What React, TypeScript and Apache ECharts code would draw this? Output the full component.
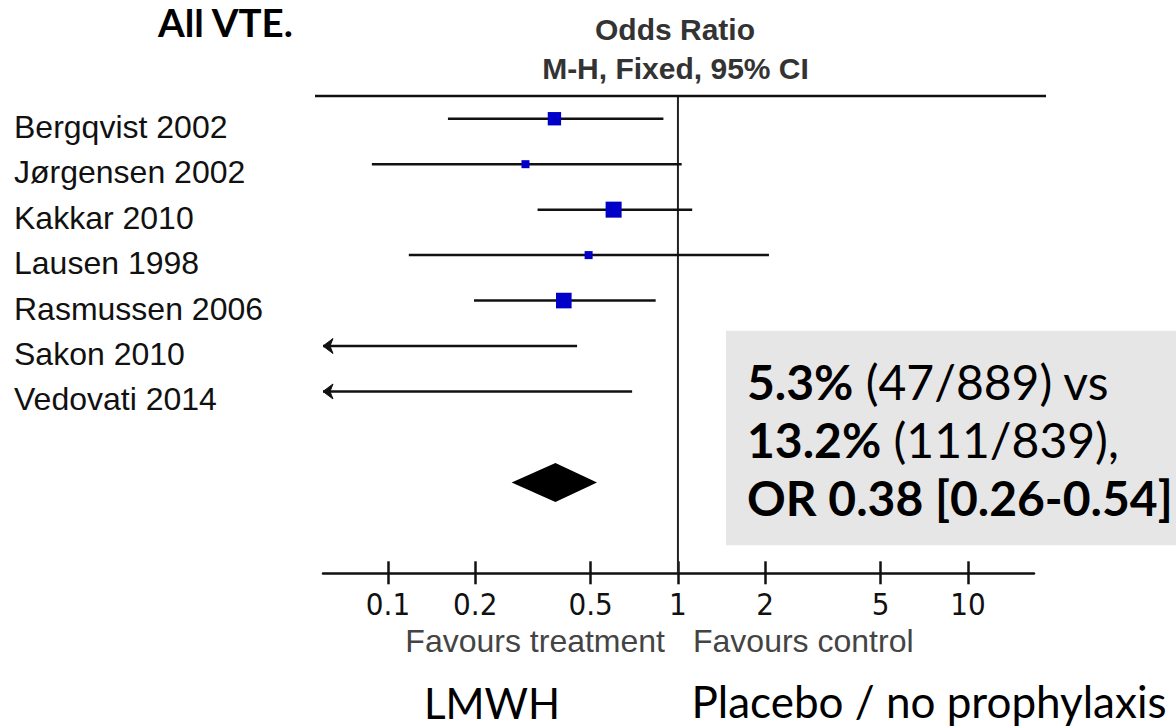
import React, { useEffect, useRef } from 'react';
import * as echarts from 'echarts';

// ---- Data ----
const studies = [
  'Bergqvist 2002',
  'Jørgensen 2002',
  'Kakkar 2010',
  'Lausen 1998',
  'Rasmussen 2006',
  'Sakon 2010',
  'Vedovati 2014',
];
const oddsRatio = [0.375, 0.298, 0.6, 0.492, 0.404, 0.04, 0.05];
const ciLower = [0.161, 0.088, 0.328, 0.118, 0.198, 0.002, 0.003];
const ciUpper = [0.891, 1.03, 1.12, 2.06, 0.838, 0.449, 0.695];
const weights = [22.0, 7.9, 31.6, 7.9, 30.0, 0.3, 0.3];

const pooledOR = [0.378];
const pooledLower = [0.267];
const pooledUpper = [0.526];

const tickValues = [0.1, 0.2, 0.5, 1, 2, 5, 10];
const tickLabels = ['0.1', '0.2', '0.5', '1', '2', '5', '10'];
const axisMinOR = 0.0597;
const axisMaxOR = 16.9;

const POOLED_ROW = 8;
const TOP_ROW = -0.5;
const AXIS_ROW = 10;

const lg = (v: number) => Math.log10(v);

export default function App() {
  const ref = useRef<HTMLDivElement>(null);

  useEffect(() => {
    if (!ref.current) return;
    const chart = echarts.init(ref.current, undefined, { renderer: 'svg' });

    const tickLogs = tickValues.map(lg);
    const labelFor = (v: number) => {
      const i = tickLogs.findIndex((t) => Math.abs(t - v) < 1e-6);
      return i >= 0 ? tickLabels[i] : '';
    };

    const studyData = studies.map((_, i) => [
      lg(ciLower[i]),
      lg(oddsRatio[i]),
      lg(ciUpper[i]),
      i,
      weights[i],
    ]);
    const pooledData = pooledOR.map((_, i) => [
      lg(pooledLower[i]),
      lg(pooledOR[i]),
      lg(pooledUpper[i]),
      POOLED_ROW,
    ]);

    const sansLabel = "'Liberation Sans', Arial, sans-serif";
    const narrowLabel =
      "'Liberation Sans Narrow', 'Arial Narrow', 'DejaVu Sans Condensed', 'Liberation Sans', Arial, sans-serif";
    const calibriLike = "Lato, 'Open Sans', sans-serif";

    const option: any = {
      animation: false,
      backgroundColor: '#ffffff',
      grid: { left: 323, right: 142, top: 96, bottom: 153.7, containLabel: false },
      xAxis: [
        {
          type: 'value',
          min: lg(axisMinOR),
          max: lg(axisMaxOR),
          position: 'bottom',
          splitLine: { show: false },
          axisLine: { show: true, onZero: false, lineStyle: { color: '#111', width: 2.5 } },
          axisTick: {
            show: true,
            inside: true,
            length: 12,
            customValues: tickLogs,
            lineStyle: { color: '#111', width: 2.5 },
          },
          axisLabel: {
            show: true,
            customValues: tickLogs,
            formatter: (v: number) => labelFor(v),
            margin: 15,
            fontFamily: narrowLabel,
            fontSize: 31,
            color: '#111',
          },
        },
        {
          type: 'value',
          min: lg(axisMinOR),
          max: lg(axisMaxOR),
          position: 'bottom',
          splitLine: { show: false },
          axisLine: { show: false, onZero: false },
          axisTick: {
            show: true,
            inside: false,
            length: 11,
            customValues: tickLogs,
            lineStyle: { color: '#111', width: 2.5 },
          },
          axisLabel: { show: false },
        },
      ],
      yAxis: {
        type: 'value',
        inverse: true,
        min: TOP_ROW,
        max: AXIS_ROW,
        splitLine: { show: false },
        axisLine: { show: false, onZero: false },
        axisTick: { show: false },
        axisLabel: {
          show: true,
          customValues: studies.map((_, i) => i),
          formatter: (v: number) => studies[Math.round(v)] ?? '',
          align: 'left',
          verticalAlign: 'top',
          lineHeight: 16,
          margin: 309,
          fontFamily: sansLabel,
          fontSize: 32,
          color: '#111',
        },
      },
      series: [
        {
          name: 'line of no effect',
          type: 'line',
          xAxisIndex: 0,
          data: [
            [0, TOP_ROW],
            [0, AXIS_ROW],
          ],
          symbol: 'none',
          lineStyle: { color: '#222', width: 2 },
          silent: true,
          z: 1,
        },
        {
          name: 'studies',
          type: 'custom',
          xAxisIndex: 0,
          encode: { x: [0, 1, 2], y: 3 },
          data: studyData,
          z: 3,
          renderItem: (params: any, api: any) => {
            const lo = api.value(0);
            const est = api.value(1);
            const hi = api.value(2);
            const row = api.value(3);
            const w = api.value(4);
            const cs = params.coordSys;
            const left = cs.x;
            const right = cs.x + cs.width;
            const pLo = api.coord([lo, row]);
            const pHi = api.coord([hi, row]);
            const pEst = api.coord([est, row]);
            const y = pEst[1];
            const x1 = Math.max(left, pLo[0]);
            const x2 = Math.min(right, pHi[0]);
            const children: any[] = [
              {
                type: 'line',
                shape: { x1, y1: y, x2, y2: y },
                style: { stroke: '#111', lineWidth: 2.5 },
              },
            ];
            if (pLo[0] < left) {
              children.push({
                type: 'polygon',
                shape: {
                  points: [
                    [left, y],
                    [left + 10, y - 7.5],
                    [left + 7, y],
                    [left + 10, y + 7.5],
                  ],
                },
                style: { fill: '#111', stroke: '#111', lineWidth: 1 },
              });
            }
            if (pHi[0] > right) {
              children.push({
                type: 'polygon',
                shape: {
                  points: [
                    [right, y],
                    [right - 10, y - 7.5],
                    [right - 7, y],
                    [right - 10, y + 7.5],
                  ],
                },
                style: { fill: '#111', stroke: '#111', lineWidth: 1 },
              });
            }
            if (pEst[0] >= left && pEst[0] <= right) {
              const s = 2.85 * Math.sqrt(w);
              children.push({
                type: 'rect',
                shape: { x: pEst[0] - s / 2, y: y - s / 2, width: s, height: s },
                style: { fill: '#0000c8' },
              });
            }
            return { type: 'group', children };
          },
        },
        {
          name: 'pooled',
          type: 'custom',
          xAxisIndex: 0,
          encode: { x: [0, 1, 2], y: 3 },
          data: pooledData,
          z: 3,
          renderItem: (params: any, api: any) => {
            const row = api.value(3);
            const pLo = api.coord([api.value(0), row]);
            const pEst = api.coord([api.value(1), row]);
            const pHi = api.coord([api.value(2), row]);
            const y = pEst[1];
            const h = 19.5;
            return {
              type: 'polygon',
              shape: {
                points: [
                  [pLo[0], y],
                  [pEst[0], y - h],
                  [pHi[0], y],
                  [pEst[0], y + h],
                ],
              },
              style: { fill: '#000' },
            };
          },
        },
      ],
      graphic: [
        {
          type: 'line',
          shape: { x1: 315, y1: 96, x2: 1046, y2: 96 },
          style: { stroke: '#111', lineWidth: 2.5 },
          z: 5,
        },
        {
          type: 'text',
          x: 158,
          y: 22,
          style: {
            text: 'All VTE.',
            fontFamily: calibriLike,
            fontWeight: 'bold',
            fontSize: 38.5,
            fill: '#000',
            textAlign: 'left',
            textVerticalAlign: 'middle',
          },
        },
        {
          type: 'text',
          x: 675,
          y: 29,
          style: {
            text: 'Odds Ratio',
            fontFamily: sansLabel,
            fontWeight: 'bold',
            fontSize: 30,
            fill: '#333',
            textAlign: 'center',
            textVerticalAlign: 'middle',
          },
        },
        {
          type: 'text',
          x: 675.5,
          y: 68,
          style: {
            text: 'M-H, Fixed, 95% CI',
            fontFamily: sansLabel,
            fontWeight: 'bold',
            fontSize: 30,
            fill: '#333',
            textAlign: 'center',
            textVerticalAlign: 'middle',
          },
        },
        {
          type: 'text',
          x: 665,
          y: 641,
          style: {
            text: 'Favours treatment',
            fontFamily: sansLabel,
            fontSize: 32,
            fill: '#444',
            textAlign: 'right',
            textVerticalAlign: 'middle',
          },
        },
        {
          type: 'text',
          x: 693,
          y: 641,
          style: {
            text: 'Favours control',
            fontFamily: sansLabel,
            fontSize: 32,
            fill: '#444',
            textAlign: 'left',
            textVerticalAlign: 'middle',
          },
        },
        {
          type: 'rect',
          shape: { x: 726, y: 330.7, width: 450, height: 214.5 },
          style: { fill: '#e6e6e6' },
          z: 10,
        },
        {
          type: 'text',
          x: 747,
          y: 381,
          z: 11,
          style: {
            text: '{b|5.3%} (47/889) vs',
            fontFamily: calibriLike,
            fontSize: 48,
            fill: '#000',
            textAlign: 'left',
            textVerticalAlign: 'middle',
            rich: { b: { fontWeight: 'bold', fontFamily: calibriLike, fontSize: 48, fill: '#000' } },
          },
        },
        {
          type: 'text',
          x: 747,
          y: 439,
          z: 11,
          style: {
            text: '{b|13.2%} (111/839),',
            fontFamily: calibriLike,
            fontSize: 48,
            fill: '#000',
            textAlign: 'left',
            textVerticalAlign: 'middle',
            rich: { b: { fontWeight: 'bold', fontFamily: calibriLike, fontSize: 48, fill: '#000' } },
          },
        },
        {
          type: 'text',
          x: 747,
          y: 497,
          z: 11,
          style: {
            text: 'OR 0.38 [0.26-0.54]',
            fontFamily: calibriLike,
            fontWeight: 'bold',
            fontSize: 48,
            fill: '#000',
            textAlign: 'left',
            textVerticalAlign: 'middle',
          },
        },
        {
          type: 'text',
          x: 492,
          y: 703,
          style: {
            text: 'LMWH',
            fontFamily: calibriLike,
            fontSize: 42,
            lineHeight: 38,
            fill: '#000',
            textAlign: 'center',
            textVerticalAlign: 'middle',
          },
        },
        {
          type: 'text',
          x: 929,
          y: 701,
          style: {
            text: 'Placebo / no prophylaxis',
            fontFamily: calibriLike,
            fontSize: 44,
            lineHeight: 38,
            fill: '#000',
            textAlign: 'center',
            textVerticalAlign: 'middle',
          },
        },
      ],
    };

    chart.setOption(option);
    return () => chart.dispose();
  }, []);

  return (
    <div
      ref={ref}
      style={{ position: 'absolute', left: 0, top: 0, width: 1176, height: 727 }}
    />
  );
}
